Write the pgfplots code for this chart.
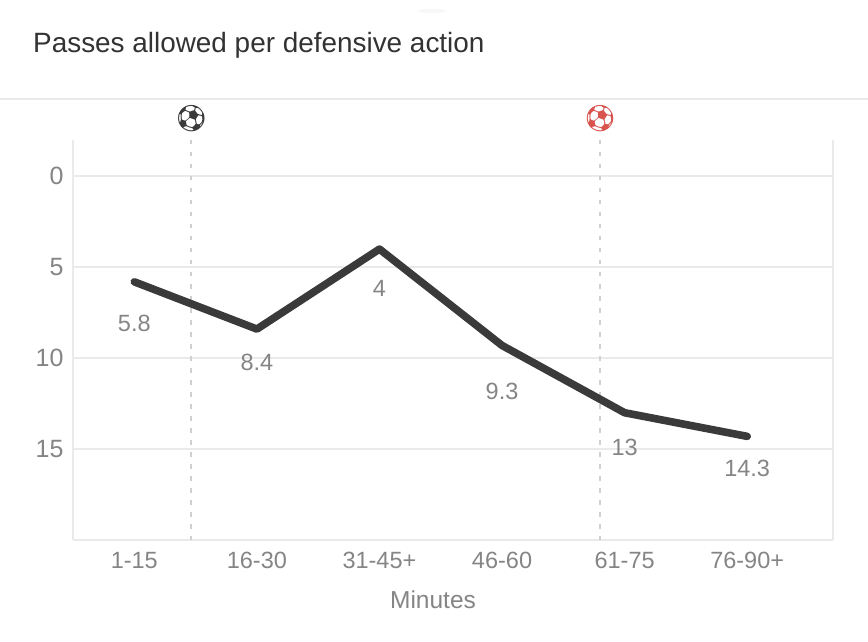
\documentclass[border=0pt]{standalone}
\usepackage{pgfplots}
\usepackage{fontspec}
\pgfplotsset{compat=1.18}
\setmainfont{Liberation Sans}
\newfontfamily\emojifont{Noto Emoji}
\definecolor{axisgray}{HTML}{EAEAEA}
\definecolor{labelgray}{HTML}{858585}
\definecolor{linedark}{HTML}{3A3A3A}
\definecolor{titledark}{HTML}{333333}
\definecolor{dotgray}{HTML}{D0D0D0}
\definecolor{goalred}{HTML}{D9534F}
\pgfplotstableread{
x y dy
0 5.8 42
1 8.4 33
2 4 39
3 9.3 46
4 13 35
5 14.3 32
}\passestable
\begin{document}
\begin{tikzpicture}[x=1pt,y=1pt]
\path[use as bounding box] (0,0) rectangle (868,642);
\fill[white] (0,0) rectangle (868,642);
\fill[black!3] (432,631) ellipse (14 and 2);
\draw[axisgray,line width=1.6pt] (0,543) -- (868,543);
\node[anchor=base west,inner sep=0pt,text=titledark,font=\fontsize{27.9}{32}\selectfont] at (33,589.5) {Passes allowed per defensive action};
\begin{axis}[
  at={(73pt,102pt)},anchor=south west,
  scale only axis,width=760pt,height=400pt,
  xmin=-0.5,xmax=5.7,ymin=-2,ymax=20,y dir=reverse,
  clip=false,
  axis lines=box,
  separate axis lines,
  x axis line style={draw=axisgray,line width=2.2pt},
  y axis line style={draw=axisgray,line width=2.2pt},
  axis x line*=bottom,
  axis y line*=left,
  major tick length=0pt,
  ytick={0,5,10,15},
  xtick={0,1,2,3,4,5},
  xticklabels={1-15,16-30,31-45+,46-60,61-75,76-90+},
  ymajorgrids,
  grid style={axisgray,line width=2.2pt},
  /pgf/number format/assume math mode=true,
  tick label style={text=labelgray,font=\fontsize{23.5}{27}\selectfont},
  xticklabel style={yshift=-9pt},
  yticklabel style={xshift=-6pt,font=\fontsize{25}{27}\selectfont},
  xlabel={Minutes},
  xlabel style={at={(axis description cs:0.4737,-0.1497)},anchor=center,text=labelgray,font=\fontsize{24.5}{28}\selectfont},
]
\addplot[axisgray,line width=2.2pt,forget plot] coordinates {(5.7,-2)(5.7,20)};
\addplot[dotgray,line width=2.2pt,dash pattern=on 4.5pt off 7.5pt,forget plot] coordinates {(0.465,-2)(0.465,20)};
\addplot[dotgray,line width=2.2pt,dash pattern=on 4.5pt off 7.5pt,forget plot] coordinates {(3.8,-2)(3.8,20)};
\addplot[
  linedark,line width=7.6pt,line join=round,line cap=round,
  visualization depends on={\thisrow{dy} \as \labeldy},
  nodes near coords,
  nodes near coords align={center},
  every node near coord/.append style={yshift=-\labeldy pt,text=labelgray,font=\fontsize{23.5}{27}\selectfont,inner sep=0pt},
] table[x=x,y=y] {\passestable};
\node[text=linedark,font=\emojifont\fontsize{26}{30}\selectfont,inner sep=0pt] at (axis cs:0.465,-3.2) {⚽};
\node[text=goalred,font=\emojifont\fontsize{26}{30}\selectfont,inner sep=0pt] at (axis cs:3.8,-3.2) {⚽};
\end{axis}
\end{tikzpicture}
\end{document}
